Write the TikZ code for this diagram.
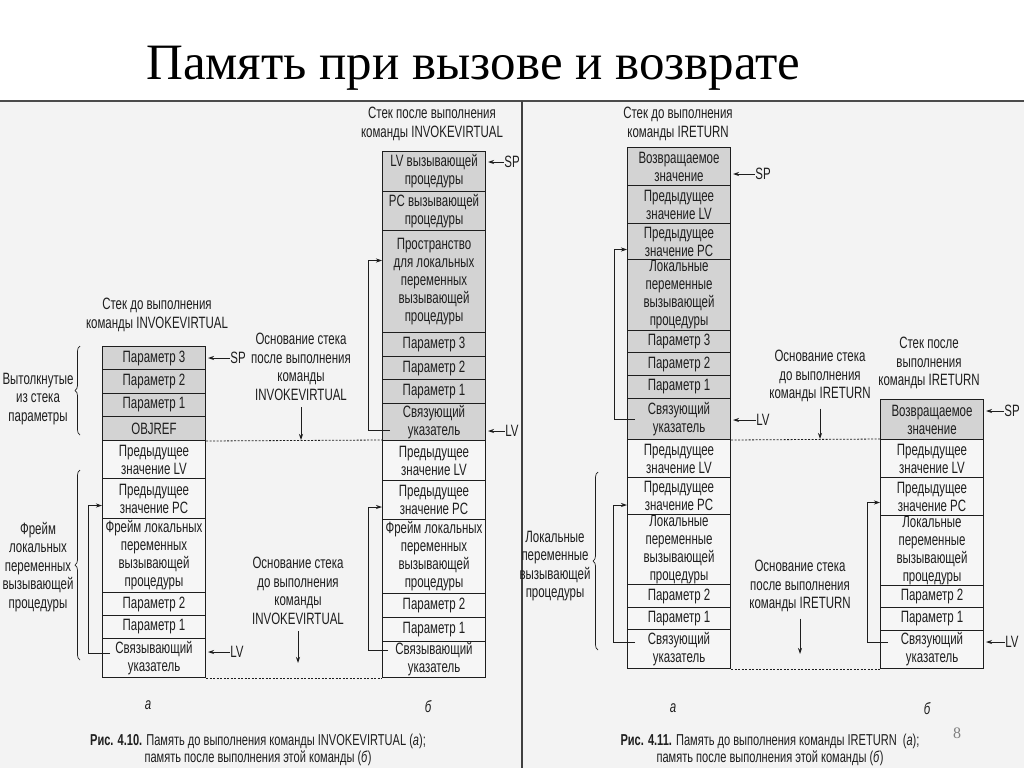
\documentclass[tikz,border=0pt]{standalone}
\usepackage{fontspec}
\setmainfont{Liberation Sans}[FakeStretch=0.70]
\newfontfamily\titlefont{Liberation Serif}
\usetikzlibrary{arrows.meta,decorations.pathreplacing}
\definecolor{pagebg}{HTML}{F3F3F3}
\definecolor{shade}{HTML}{D3D3D3}
\definecolor{plain}{HTML}{F6F6F6}
\definecolor{ink}{HTML}{1E1E1E}
\tikzset{
  cellst/.style={draw=ink, line width=1pt, inner sep=0pt, minimum width=103pt,
    align=center, text=ink, font=\fontsize{16.4}{18}\selectfont},
  lbl/.style={inner sep=0.5pt, align=center, text=ink, font=\fontsize{16.4}{18.5}\selectfont},
  itl/.style={inner sep=0.5pt, text=ink, font=\itshape\fontsize{16.4}{18}\selectfont},
  captext/.style={inner sep=0pt, align=center, text=ink, font=\fontsize{15.8}{16.5}\selectfont},
  ptr/.style={draw=ink, line width=0.8pt, -{Stealth[length=6pt,width=4pt]}},
  loopln/.style={draw=ink, line width=0.8pt, -{Stealth[length=6pt,width=4pt]}},
  dashln/.style={draw=ink, line width=0.8pt, dash pattern=on 2pt off 1.5pt},
  bracest/.style={draw=ink, line width=0.7pt, decorate, decoration={brace, amplitude=5pt}},
}
\newcommand\stk[6]{%
  \node[cellst, fill=#5, minimum height=#4pt-#3pt, anchor=north west] (#1) at (#2,#3) {#6};}
\begin{document}
\begin{tikzpicture}[x=1pt, y=-1pt]
\useasboundingbox (0,0) rectangle (1024,768);
\fill[white] (0,0) rectangle (1024,768);
\fill[pagebg] (0,101) rectangle (1024,768);
\draw[ink!80, line width=1.2pt] (0,101) -- (1024,101);
\draw[ink!85, line width=1.8pt] (522,101) -- (522,768);

\node[anchor=base west, inner sep=0pt, text=black, font=\titlefont\fontsize{51}{56}\selectfont] (title) at (146,79) {Память при вызове и возврате};

% ---------------- Fig 4.10 a ----------------
\node[lbl] (tA) at (157,315) {Стек до выполнения\\команды INVOKEVIRTUAL};
\stk{A1}{102}{346}{369}{shade}{Параметр 3}
\stk{A2}{102}{369}{393}{shade}{Параметр 2}
\stk{A3}{102}{393}{416}{shade}{Параметр 1}
\stk{A4}{102}{416}{440}{shade}{OBJREF}
\stk{A5}{102}{440}{478}{plain}{Предыдущее\\значение LV}
\stk{A6}{102}{478}{518}{plain}{Предыдущее\\значение PC}
\stk{A7}{102}{518}{592}{plain}{Фрейм локальных\\переменных\\вызывающей\\процедуры}
\stk{A8}{102}{592}{615}{plain}{Параметр 2}
\stk{A9}{102}{615}{638}{plain}{Параметр 1}
\stk{A10}{102}{638}{677}{plain}{Связывающий\\указатель}

\node[lbl] (spA) at (238,358) {SP};
\draw[ptr] (spA.west) -- ([xshift=2pt]spA.west -| A1.east);
\node[lbl] (lvA) at (237,652) {LV};
\draw[ptr] (lvA.west) -- ([xshift=2pt]lvA.west -| A10.east);

\node[lbl] (popA) at (38,399) {Вытолкнутые\\из стека\\параметры};
\draw[bracest] (80,435) -- (80,346);
\node[lbl] (frA) at (38,567) {Фрейм\\локальных\\переменных\\вызывающей\\процедуры};
\draw[bracest] (80,660) -- (80,470);

\draw[loopln] ([xshift=8pt,yshift=5pt]A10.west) -- ++(-22,0) |- ([yshift=-7pt]A6.west);

\node[lbl] (bAfterA) at (301,367) {Основание стека\\после выполнения\\команды\\INVOKEVIRTUAL};
\node[lbl] (bBeforeA) at (298,591) {Основание стека\\до выполнения\\команды\\INVOKEVIRTUAL};
\node[itl] (la) at (148,705) {а};

% ---------------- Fig 4.10 b ----------------
\node[lbl] (tB) at (432,124) {Стек после выполнения\\команды INVOKEVIRTUAL};
\stk{B1}{382}{151}{191}{shade}{LV вызывающей\\процедуры}
\stk{B2}{382}{191}{230}{shade}{PC вызывающей\\процедуры}
\stk{B3}{382}{230}{332}{shade}{Пространство\\для локальных\\переменных\\вызывающей\\процедуры}
\stk{B4}{382}{332}{356}{shade}{Параметр 3}
\stk{B5}{382}{356}{379}{shade}{Параметр 2}
\stk{B6}{382}{379}{403}{shade}{Параметр 1}
\stk{B7}{382}{403}{440}{shade}{Связующий\\указатель}
\stk{B8}{382}{440}{480}{plain}{Предыдущее\\значение LV}
\stk{B9}{382}{480}{519}{plain}{Предыдущее\\значение PC}
\stk{B10}{382}{519}{593}{plain}{Фрейм локальных\\переменных\\вызывающей\\процедуры}
\stk{B11}{382}{593}{617}{plain}{Параметр 2}
\stk{B12}{382}{617}{641}{plain}{Параметр 1}
\stk{B13}{382}{641}{677}{plain}{Связывающий\\указатель}

\node[lbl] (spB) at (512,162) {SP};
\draw[ptr] (spB.west) -- ([xshift=2pt]spB.west -| B1.east);
\node[lbl] (lvB) at (512,431) {LV};
\draw[ptr] (lvB.west) -- ([xshift=2pt]lvB.west -| B7.east);

\draw[loopln] ([xshift=8pt,yshift=-8pt]B7.west) -- ++(-22,0) |- ([yshift=21pt]B3.west);
\draw[loopln] ([xshift=6pt,yshift=9pt]B13.west) -- ++(-20,0) |- ([yshift=-7pt]B9.west);
\node[itl] (lb) at (428,707) {б};

\draw[dashln] (A4.south east) -- (B8.north west);
\draw[dashln] (A10.south east) -- (B13.south west);
\draw[ptr] ([yshift=-6pt]bAfterA.south) -- (bAfterA.south |- A5.north);
\draw[ptr] ([yshift=-6pt]bBeforeA.south) -- ([yshift=15pt]bBeforeA.south |- A10.south);

\node[captext] (capA) at (258,750) {\textbf{Рис. 4.10.} Память до выполнения команды INVOKEVIRTUAL (\textit{а});\\память после выполнения этой команды (\textit{б})};

% ---------------- Fig 4.11 a ----------------
\node[lbl] (tC) at (678,124) {Стек до выполнения\\команды IRETURN};
\stk{C1}{627}{147}{185}{shade}{Возвращаемое\\значение}
\stk{C2}{627}{185}{223}{shade}{Предыдущее\\значение LV}
\stk{C3}{627}{223}{259}{shade}{Предыдущее\\значение PC}
\stk{C4}{627}{259}{330}{shade}{Локальные\\переменные\\вызывающей\\процедуры}
\stk{C5}{627}{330}{352}{shade}{Параметр 3}
\stk{C6}{627}{352}{375}{shade}{Параметр 2}
\stk{C7}{627}{375}{398}{shade}{Параметр 1}
\stk{C8}{627}{398}{439}{shade}{Связующий\\указатель}
\stk{C9}{627}{439}{477}{plain}{Предыдущее\\значение LV}
\stk{C10}{627}{477}{514}{plain}{Предыдущее\\значение PC}
\stk{C11}{627}{514}{584}{plain}{Локальные\\переменные\\вызывающей\\процедуры}
\stk{C12}{627}{584}{607}{plain}{Параметр 2}
\stk{C13}{627}{607}{629}{plain}{Параметр 1}
\stk{C14}{627}{629}{668}{plain}{Связующий\\указатель}

\node[lbl] (spC) at (763,174) {SP};
\draw[ptr] (spC.west) -- ([xshift=2pt]spC.west -| C1.east);
\node[lbl] (lvC) at (763,420) {LV};
\draw[ptr] (lvC.west) -- ([xshift=2pt]lvC.west -| C8.east);

\draw[loopln] ([xshift=8pt]C8.west) -- ++(-21,0) |- ([yshift=-8pt]C3.west);
\draw[loopln] ([xshift=8pt,yshift=7pt]C14.west) -- ++(-22,0) |- ([yshift=-9pt]C10.west);

\draw[bracest] (598,650) -- (598,472);
\node[lbl] (locC) at (555,566) {Локальные\\переменные\\вызывающей\\процедуры};
\node[itl] (lc) at (673,708) {а};

\node[lbl] (bBeforeC) at (820,376) {Основание стека\\до выполнения\\команды IRETURN};
\node[lbl] (bAfterC) at (800,586) {Основание стека\\после выполнения\\команды IRETURN};

% ---------------- Fig 4.11 b ----------------
\node[lbl] (tD) at (929,363) {Стек после\\выполнения\\команды IRETURN};
\stk{D1}{880}{399}{439}{shade}{Возвращаемое\\значение}
\stk{D2}{880}{439}{477}{plain}{Предыдущее\\значение LV}
\stk{D3}{880}{477}{515}{plain}{Предыдущее\\значение PC}
\stk{D4}{880}{515}{585}{plain}{Локальные\\переменные\\вызывающей\\процедуры}
\stk{D5}{880}{585}{607}{plain}{Параметр 2}
\stk{D6}{880}{607}{630}{plain}{Параметр 1}
\stk{D7}{880}{630}{668}{plain}{Связующий\\указатель}

\node[lbl] (spD) at (1012,411) {SP};
\draw[ptr] (spD.west) -- ([xshift=2pt]spD.west -| D1.east);
\node[lbl] (lvD) at (1012,642) {LV};
\draw[ptr] (lvD.west) -- ([xshift=2pt]lvD.west -| D7.east);

\draw[loopln] ([xshift=8pt,yshift=7pt]D7.west) -- ++(-21,0) |- ([yshift=-6pt]D3.west);
\node[itl] (ld) at (927,709) {б};

\draw[dashln] (C8.south east) -- (D2.north west);
\draw[dashln] (C14.south east) -- (D7.south west);
\draw[ptr] ([yshift=-6pt]bBeforeC.south) -- (bBeforeC.south |- C9.north);
\draw[ptr] ([yshift=-6pt]bAfterC.south) -- ([yshift=15pt]bAfterC.south |- C14.south);

\node[captext] (capC) at (770,750) {\textbf{Рис. 4.11.} Память до выполнения команды IRETURN\ \ (\textit{а});\\память после выполнения этой команды (\textit{б})};
\node[inner sep=0pt, text=gray, font=\titlefont\fontsize{16}{18}\selectfont] (pg) at (957,733) {8};
\end{tikzpicture}
\end{document}
